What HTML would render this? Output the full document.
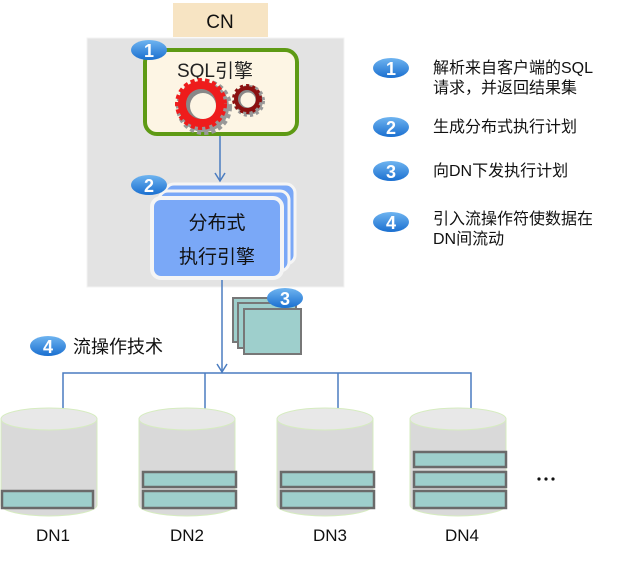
<!DOCTYPE html>
<html><head><meta charset="utf-8"><style>
body{margin:0;background:#fff;}
svg text{font-family:"Liberation Sans","Noto Sans CJK SC",sans-serif;}
</style></head><body>
<svg width="621" height="559" viewBox="0 0 621 559" xmlns="http://www.w3.org/2000/svg">
<defs>
<linearGradient id="bd" x1="0" y1="0" x2="0" y2="1"><stop offset="0" stop-color="#6fb4f0"/><stop offset="1" stop-color="#1a6fd0"/></linearGradient>
<g id="badge"><ellipse cx="0" cy="0" rx="18" ry="10" fill="url(#bd)"/></g>
</defs>
<rect x="173" y="3" width="95" height="34" fill="#f7e4c3"/>
<text x="220" y="28" font-size="19" text-anchor="middle" fill="#111">CN</text>
<rect x="87" y="38" width="257" height="249" fill="#e3e3e3" stroke="#f3f3f3"/>
<rect x="145" y="50" width="152" height="84" rx="12" fill="#fdf5e4" stroke="#5e9a14" stroke-width="4"/>
<text x="215" y="77" font-size="19" text-anchor="middle" fill="#222">SQL引擎</text>
<circle cx="204" cy="107" r="25" fill="#999" stroke="#999" stroke-width="6" stroke-dasharray="4 3"/>
<circle cx="201" cy="104" r="23" fill="#ee1c1c" stroke="#ee1c1c" stroke-width="6" stroke-dasharray="4 3"/>
<circle cx="201" cy="104" r="15" fill="#888"/>
<circle cx="203" cy="106" r="13" fill="#fdf5e4"/>
<circle cx="249" cy="101" r="14" fill="#999" stroke="#999" stroke-width="4" stroke-dasharray="3 3"/>
<circle cx="247" cy="99" r="13" fill="#8b1010" stroke="#8b1010" stroke-width="4" stroke-dasharray="3 3"/>
<circle cx="247" cy="99" r="9" fill="#888"/>
<circle cx="248" cy="100" r="7.5" fill="#fdf5e4"/>
<use href="#badge" x="149" y="50"/><text x="149" y="57" font-size="18" font-weight="bold" fill="#fff" text-anchor="middle">1</text>
<line x1="220" y1="136" x2="220" y2="181" stroke="#4a7cc0" stroke-width="1.5"/>
<polyline points="215,173 220,181 225,173" fill="none" stroke="#4a7cc0" stroke-width="1.5"/>
<rect x="165" y="184" width="130" height="80" rx="9" fill="#7aa8f7" stroke="#f5f5f5" stroke-width="3"/>
<rect x="159" y="191" width="130" height="80" rx="9" fill="#7aa8f7" stroke="#f5f5f5" stroke-width="3"/>
<rect x="152" y="198" width="130" height="80" rx="9" fill="#7aa8f7" stroke="#f5f5f5" stroke-width="4"/>
<text x="217" y="229" font-size="19" text-anchor="middle" fill="#111">分布式</text>
<text x="217" y="263" font-size="19" text-anchor="middle" fill="#111">执行引擎</text>
<use href="#badge" x="149" y="185"/><text x="149" y="192" font-size="18" font-weight="bold" fill="#fff" text-anchor="middle">2</text>
<line x1="222" y1="280" x2="222" y2="373" stroke="#4a7cc0" stroke-width="1.5"/>
<polyline points="217,364 222,372 227,364" fill="none" stroke="#4a7cc0" stroke-width="1.5"/>
<rect x="233" y="298" width="58" height="44" fill="#9ecfcc" stroke="#777" stroke-width="2"/>
<rect x="238" y="303" width="58" height="45" fill="#9ecfcc" stroke="#777" stroke-width="2"/>
<rect x="244" y="309" width="57" height="45" fill="#9ecfcc" stroke="#777" stroke-width="2"/>
<use href="#badge" x="285" y="298"/><text x="285" y="305" font-size="18" font-weight="bold" fill="#fff" text-anchor="middle">3</text>
<use href="#badge" x="48" y="346"/><text x="48" y="353" font-size="18" font-weight="bold" fill="#fff" text-anchor="middle">4</text>
<text x="73" y="353" font-size="18" fill="#111">流操作技术</text>
<polyline points="63,410 63,373 471,373 471,410" fill="none" stroke="#4a7cc0" stroke-width="1.5"/>
<line x1="205" y1="373" x2="205" y2="410" stroke="#4a7cc0" stroke-width="1.5"/>
<line x1="338" y1="373" x2="338" y2="410" stroke="#4a7cc0" stroke-width="1.5"/>
<g stroke="#d6ecc0" stroke-width="1">
<path d="M1,419 v86 a48,11 0 0 0 96,0 v-86" fill="#d9d9d9"/><ellipse cx="49" cy="419" rx="48" ry="11" fill="#e8e8e8"/>
<path d="M139,419 v86 a48,11 0 0 0 96,0 v-86" fill="#d9d9d9"/><ellipse cx="187" cy="419" rx="48" ry="11" fill="#e8e8e8"/>
<path d="M277,419 v86 a48,11 0 0 0 96,0 v-86" fill="#d9d9d9"/><ellipse cx="325" cy="419" rx="48" ry="11" fill="#e8e8e8"/>
<path d="M410,419 v86 a48,11 0 0 0 96,0 v-86" fill="#d9d9d9"/><ellipse cx="458" cy="419" rx="48" ry="11" fill="#e8e8e8"/>
</g>
<g fill="#9ecfcc" stroke="#6a6a6a" stroke-width="2.5">
<rect x="2" y="491" width="91" height="17"/>
<rect x="143" y="472" width="93" height="15"/><rect x="143" y="491" width="93" height="17"/>
<rect x="281" y="472" width="93" height="15"/><rect x="281" y="491" width="93" height="17"/>
<rect x="414" y="452" width="92" height="15"/><rect x="414" y="472" width="92" height="15"/><rect x="414" y="491" width="92" height="17"/>
</g>
<g fill="#111"><circle cx="539" cy="479" r="1.6"/><circle cx="546" cy="479" r="1.6"/><circle cx="553" cy="479" r="1.6"/></g>
<g font-size="17" fill="#111" text-anchor="middle">
<text x="53" y="541">DN1</text><text x="187" y="541">DN2</text><text x="330" y="541">DN3</text><text x="462" y="541">DN4</text>
</g>
<g font-size="16" fill="#111">
<use href="#badge" x="391" y="68"/><text x="391" y="75" font-size="18" font-weight="bold" fill="#fff" text-anchor="middle">1</text>
<text x="433" y="73">解析来自客户端的SQL</text><text x="433" y="93">请求，并返回结果集</text>
<use href="#badge" x="391" y="127"/><text x="391" y="134" font-size="18" font-weight="bold" fill="#fff" text-anchor="middle">2</text>
<text x="433" y="132">生成分布式执行计划</text>
<use href="#badge" x="391" y="171"/><text x="391" y="178" font-size="18" font-weight="bold" fill="#fff" text-anchor="middle">3</text>
<text x="433" y="176">向DN下发执行计划</text>
<use href="#badge" x="391" y="222"/><text x="391" y="229" font-size="18" font-weight="bold" fill="#fff" text-anchor="middle">4</text>
<text x="433" y="224">引入流操作符使数据在</text><text x="433" y="244">DN间流动</text>
</g>
</svg>
</body></html>
